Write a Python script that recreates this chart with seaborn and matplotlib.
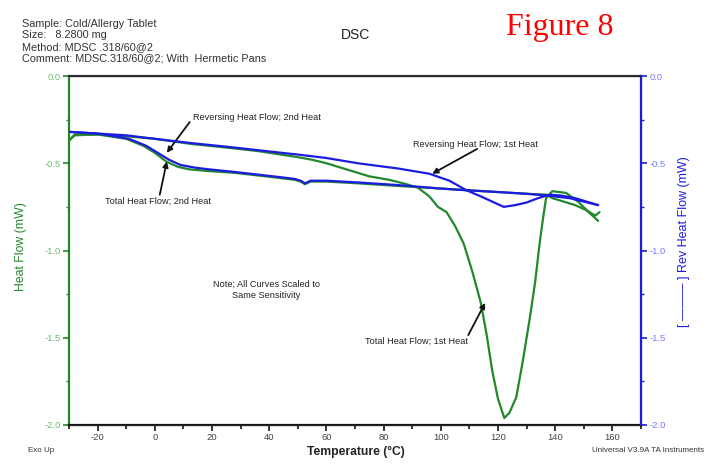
import numpy as np
import pandas as pd
import matplotlib
matplotlib.use("Agg")
import matplotlib.pyplot as plt
import seaborn as sns

# --- data (temperature in C, heat flow in mW) ---
t_tot1 = [-30, -28, -20, -10, 0, 13, 25, 36, 46, 50, 55, 60, 64, 70, 75, 82, 88, 92,
          96, 99, 102, 105, 108, 111, 114, 116, 118, 120, 122.2, 124, 126.4, 128.5,
          131, 133, 134.4, 135.7, 136.8, 139, 143.8, 148, 151.7, 155]
hf_tot1 = [-0.37, -0.34, -0.335, -0.345, -0.36, -0.39, -0.41, -0.43, -0.455, -0.465,
           -0.48, -0.50, -0.52, -0.55, -0.575, -0.595, -0.62, -0.64,
           -0.69, -0.75, -0.78, -0.86, -0.96, -1.12, -1.30, -1.48, -1.69, -1.85, -1.96,
           -1.93, -1.84, -1.65, -1.40, -1.18, -0.98, -0.82, -0.70, -0.66, -0.67, -0.72,
           -0.78, -0.83]

t_tot2 = [-30, -28, -20, -10, -4, 0, 4, 8, 12, 19, 28, 36, 44, 49, 51, 52.5, 54.5, 60,
          71, 85, 100, 110, 120, 130, 137, 139, 143, 147, 151, 154, 155.5]
hf_tot2 = [-0.37, -0.335, -0.335, -0.36, -0.40, -0.44, -0.49, -0.52, -0.535, -0.545,
           -0.555, -0.57, -0.585, -0.595, -0.605, -0.62, -0.605, -0.605, -0.615, -0.63,
           -0.645, -0.655, -0.665, -0.675, -0.68, -0.70, -0.72, -0.74, -0.77, -0.80,
           -0.78]

t_rev1 = [-30, -20, -10, 0, 13, 25, 36, 47, 50, 60, 71, 85, 96, 103, 109, 114, 118,
          122, 126, 130, 134, 138, 142, 147, 151, 155]
hf_rev1 = [-0.32, -0.33, -0.34, -0.36, -0.385, -0.405, -0.425, -0.445, -0.45, -0.47,
           -0.50, -0.53, -0.56, -0.60, -0.655, -0.69, -0.72, -0.75, -0.74, -0.725,
           -0.70, -0.68, -0.685, -0.70, -0.72, -0.74]

t_rev2 = [-30, -20, -16, -9, -3, 1, 5, 9, 14, 19, 28, 36, 44, 49, 51, 52.5, 54.5, 60,
          71, 85, 100, 109, 120, 130, 137, 145, 150, 155]
hf_rev2 = [-0.32, -0.33, -0.34, -0.36, -0.40, -0.44, -0.48, -0.51, -0.525, -0.535,
           -0.55, -0.565, -0.58, -0.59, -0.60, -0.615, -0.60, -0.60, -0.61, -0.625,
           -0.645, -0.655, -0.665, -0.675, -0.685, -0.70, -0.72, -0.74]

header = ["Sample: Cold/Allergy Tablet", "Size:   8.2800 mg",
          "Method: MDSC .318/60@2", "Comment: MDSC.318/60@2; With  Hermetic Pans"]

GREEN = "#22882a"
BLUE = "#1c1ce0"

sns.set_style("ticks")
plt.rcParams["font.family"] = ["Liberation Sans", "DejaVu Sans"]
plt.rcParams["axes.unicode_minus"] = False

W, H = 711, 466
fig = plt.figure(figsize=(W / 100, H / 100), dpi=100)
ax = fig.add_axes([69 / W, 1 - 425 / H, (641 - 69) / W, (425 - 76) / H])
ax2 = ax.twinx()

sns.lineplot(x=t_tot1, y=hf_tot1, ax=ax, color=GREEN, lw=1.6, sort=False, estimator=None)
sns.lineplot(x=t_tot2, y=hf_tot2, ax=ax, color=GREEN, lw=1.6, sort=False, estimator=None)
sns.lineplot(x=t_rev1, y=hf_rev1, ax=ax2, color=BLUE, lw=1.6, sort=False, estimator=None)
sns.lineplot(x=t_rev2, y=hf_rev2, ax=ax2, color=BLUE, lw=1.6, sort=False, estimator=None)

for a in (ax, ax2):
    a.set_xlim(-30, 170)
    a.set_ylim(-2.0, 0.0)
    a.set_yticks(np.arange(-2.0, 0.01, 0.5))
    a.set_yticks(np.arange(-2.0, 0.01, 0.25), minor=True)
    a.yaxis.set_major_formatter(matplotlib.ticker.FormatStrFormatter("%.1f"))
    a.set_xlabel("")
    a.set_ylabel("")

ax.set_xticks(np.arange(-20, 161, 20))
ax.set_xticks(np.arange(-30, 171, 10), minor=True)

for side in ("left", "right", "top", "bottom"):
    ax.spines[side].set_visible(True)
    ax2.spines[side].set_visible(True)
ax.spines["left"].set_color(GREEN)
ax.spines["left"].set_linewidth(1.6)
ax.spines["bottom"].set_color("#111111")
ax.spines["bottom"].set_linewidth(1.6)
ax.spines["top"].set_color("#333333")
ax.spines["top"].set_linewidth(1.6)
ax2.spines["right"].set_color(BLUE)
ax2.spines["right"].set_linewidth(1.6)
ax2.spines["left"].set_visible(False)

ax.tick_params(axis="x", which="both", direction="out", color="#111111",
               labelcolor="#444444", labelsize=6.8, pad=2)
ax.tick_params(axis="x", which="major", length=4, width=1.2)
ax.tick_params(axis="x", which="minor", length=3, width=1.2)
ax.tick_params(axis="y", which="both", direction="out", color=GREEN,
               labelcolor="#6cbf6c", labelsize=6.8, pad=2)
ax.tick_params(axis="y", which="major", length=4, width=1.2)
ax.tick_params(axis="y", which="minor", length=2.5, width=1.0)
ax2.tick_params(axis="y", which="both", direction="out", color=BLUE,
                labelcolor="#7a7aff", labelsize=6.8, pad=2)
ax2.tick_params(axis="y", which="major", length=4, width=1.2)
ax2.tick_params(axis="y", which="minor", length=2.5, width=1.0)

# annotations
note_fs = 6.6
ax.text(13.3, -0.235, "Reversing Heat Flow; 2nd Heat", fontsize=note_fs, color="#222222",
        ha="left", va="center")
ax.text(1.0, -0.716, "Total Heat Flow; 2nd Heat", fontsize=note_fs, color="#222222",
        ha="center", va="center")
ax.text(112, -0.39, "Reversing Heat Flow; 1st Heat", fontsize=note_fs, color="#222222",
        ha="center", va="center")
ax.text(91.5, -1.52, "Total Heat Flow; 1st Heat", fontsize=note_fs, color="#222222",
        ha="center", va="center")
ax.text(39, -1.226, "Note; All Curves Scaled to\nSame Sensitivity", fontsize=note_fs,
        color="#222222", ha="center", va="center", linespacing=1.2)

arrows = [((12.2, -0.264), (4.2, -0.44)),
          ((1.75, -0.68), (4.2, -0.49)),
          ((112.7, -0.418), (97, -0.56)),
          ((109.6, -1.485), (115.5, -1.30))]
for start, tip in arrows:
    ax.annotate("", xy=tip, xytext=start,
                arrowprops=dict(arrowstyle="-|>", color="#111111", lw=1.3,
                                mutation_scale=8, shrinkA=0, shrinkB=0))

# header / footer text
for i, line in enumerate(header):
    fig.text(22 / W, 1 - (24 + 11.5 * i) / H, line, fontsize=7.8, color="#333333",
             ha="left", va="center")
fig.text(356 / W, 1 - 35 / H, "DSC", fontsize=10, color="#222222", ha="center", va="center")
fig.text(560 / W, 1 - 27 / H, "Figure 8", fontsize=23, color="red", ha="center", va="center",
         family="Liberation Serif")
fig.text(21 / W, 1 - 247 / H, "Heat Flow (mW)", fontsize=8.8, color=GREEN,
         rotation=90, ha="center", va="center")
fig.text(684 / W, 1 - 242 / H, "[ ——— ] Rev Heat Flow (mW)", fontsize=9, color=BLUE,
         rotation=90, ha="center", va="center")
fig.text(356 / W, 1 - 452 / H, "Temperature (°C)", fontsize=8.7, fontweight="bold",
         color="#222222", ha="center", va="center")
fig.text(28 / W, 1 - 450 / H, "Exo Up", fontsize=5.8, color="#333333", ha="left", va="center")
fig.text(704 / W, 1 - 450 / H, "Universal V3.9A TA Instruments", fontsize=5.8,
         color="#333333", ha="right", va="center")

fig.savefig("out.png", dpi=100)
